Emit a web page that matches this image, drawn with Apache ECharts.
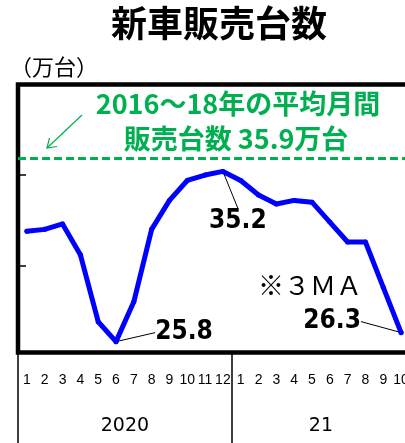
<!DOCTYPE html>
<html>
<head>
<meta charset="utf-8">
<script src="https://cdn.jsdelivr.net/npm/echarts@6/dist/echarts.min.js"></script>
<style>
  html, body { margin: 0; padding: 0; background: #fff; }
  #chart { width: 405px; height: 443px; }
</style>
</head>
<body>
<div id="chart"></div>
<script>
// 2020-1 .. 2021-10, 3 month moving average (万台)
const months = ["1", "2", "3", "4", "5", "6", "7", "8", "9", "10", "11", "12",
                "1", "2", "3", "4", "5", "6", "7", "8", "9", "10"];
const years = ["2020", "21"];
const monthsPerYear = [12, 10];
const sales = [31.9, 32.0, 32.3, 30.6, 26.9, 25.8, 28.0, 32.0, 33.6, 34.7, 35.0, 35.2,
               34.7, 33.9, 33.4, 33.6, 33.5, 32.4, 31.3, 31.3, 28.8, 26.3];
const avg2016to18 = 35.9;
const yTicks = [30, 35];
const labelledPoints = [5, 11, 21];

const GREEN = "#00b050";
const NARROW = "'Liberation Sans Narrow', 'DejaVu Sans Condensed', 'Liberation Sans', sans-serif";
const JP = "'Noto Sans CJK JP', sans-serif";

// where each value label sits, relative to its point
const labelOffsets = { 5: [68, -9], 11: [15, 50], 21: [-69, -11] };

// year spans on a value axis running from -0.5 to 21.5
let start = -0.5;
const yearBreaks = [];
const yearCenters = [];
monthsPerYear.forEach(n => {
  yearBreaks.push(start);
  yearCenters.push(start + n / 2);
  start += n;
});

const seriesData = sales.map((v, i) =>
  labelledPoints.includes(i)
    ? { value: v, label: { show: true }, labelLine: { show: true } }
    : v
);

var myChart = echarts.init(document.getElementById("chart"));
myChart.setOption({
  animation: false,
  grid: {
    left: 18,
    top: 84.5,
    width: 392,
    height: 268,
    outerBoundsMode: "none",
    containLabel: false,
    show: true,
    borderColor: "#000",
    borderWidth: 4.5,
    backgroundColor: "transparent"
  },
  xAxis: [
    {
      type: "category",
      data: months,
      boundaryGap: true,
      axisLine: { show: false },
      axisTick: { show: false },
      axisLabel: {
        interval: 0,
        margin: 21,
        fontSize: 14,
        color: "#000",
        fontFamily: "'Liberation Sans', sans-serif"
      }
    },
    {
      type: "value",
      min: -0.5,
      max: 21.5,
      position: "bottom",
      axisLine: { show: false, onZero: false },
      splitLine: { show: false },
      axisTick: {
        show: true,
        customValues: yearBreaks,
        length: 95,
        lineStyle: { color: "#000", width: 1.5 }
      },
      axisLabel: {
        customValues: yearCenters,
        formatter: v => years[yearCenters.indexOf(v)],
        margin: 64,
        fontSize: 19,
        color: "#000",
        fontFamily: "'DejaVu Sans', sans-serif"
      }
    }
  ],
  yAxis: {
    type: "value",
    min: 25.2,
    max: 40,
    axisLine: { show: false, onZero: false },
    splitLine: { show: false },
    axisLabel: { show: false },
    axisTick: {
      show: true,
      inside: true,
      length: 8,
      customValues: yTicks,
      lineStyle: { color: "#000", width: 1.5 }
    }
  },
  series: [
    {
      type: "line",
      data: seriesData,
      symbol: "circle",
      symbolSize: 5,
      showSymbol: true,
      itemStyle: { color: "#0000ff" },
      lineStyle: { color: "#0000ff", width: 5, cap: "round", join: "round" },
      label: {
        show: false,
        position: "inside",
        formatter: p => p.value.toFixed(1),
        fontFamily: NARROW,
        fontSize: 26,
        fontWeight: "bold",
        color: "#000"
      },
      labelLine: { show: false, lineStyle: { color: "#000", width: 1 } },
      labelLayout: params => {
        const o = labelOffsets[params.dataIndex];
        return o ? { dx: o[0], dy: o[1] } : {};
      },
      markLine: {
        silent: true,
        symbol: "none",
        label: { show: false },
        lineStyle: { color: GREEN, type: [8, 4], width: 3 },
        data: [{ yAxis: avg2016to18 }]
      }
    }
  ],
  graphic: [
    {
      type: "text",
      x: 219,
      y: 23,
      style: {
        text: "新車販売台数",
        font: "bold 36px " + JP,
        fill: "#000",
        align: "center",
        verticalAlign: "middle"
      }
    },
    {
      type: "text",
      left: 10,
      top: 56,
      style: { text: "（万台）", font: "22px " + JP, fill: "#000" }
    },
    {
      type: "text",
      x: 238,
      y: 104,
      style: {
        text: "2016～18年の平均月間",
        font: "bold 27px " + JP,
        fill: GREEN,
        align: "center",
        verticalAlign: "middle"
      }
    },
    {
      type: "text",
      x: 236,
      y: 139,
      style: {
        text: "販売台数 35.9万台",
        font: "bold 27px " + JP,
        fill: GREEN,
        align: "center",
        verticalAlign: "middle"
      }
    },
    {
      type: "text",
      x: 310,
      y: 285,
      style: {
        text: "※３ＭＡ",
        font: "26px " + JP,
        fill: "#000",
        align: "center",
        verticalAlign: "middle"
      }
    },
    {
      type: "polyline",
      shape: { points: [[82, 115], [47, 148]] },
      style: { stroke: GREEN, lineWidth: 1.2, fill: null }
    },
    {
      type: "polyline",
      shape: { points: [[49.5, 138], [47, 148], [57, 146.5]] },
      style: { stroke: GREEN, lineWidth: 1.2, fill: null }
    }
  ]
});

window.addEventListener("resize", () => {
  myChart.resize();
});
</script>
</body>
</html>
